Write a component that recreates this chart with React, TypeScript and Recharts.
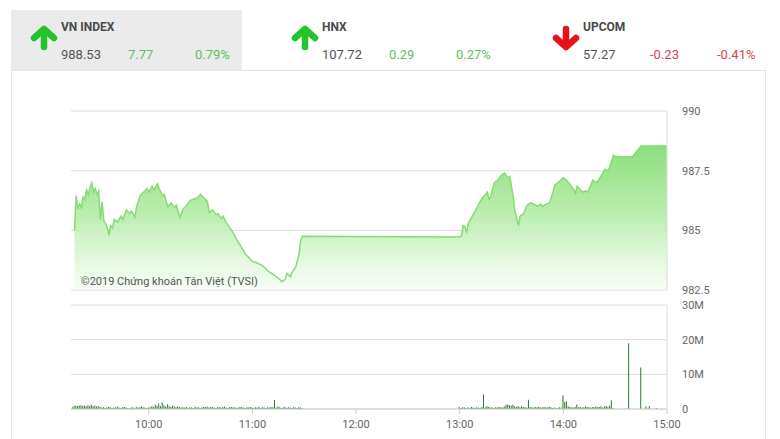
import React from 'react';
import { AreaChart, Area, BarChart, Bar, XAxis, YAxis, CartesianGrid } from 'recharts';

// header quotes
const indexNames = ['VN INDEX', 'HNX', 'UPCOM'];
const indexValues = ['988.53', '107.72', '57.27'];
const indexChanges = ['7.77', '0.29', '-0.23'];
const indexPercents = ['0.79%', '0.27%', '-0.41%'];

// intraday price (time, index level)
const priceTimes = [
  '09:17', '09:18', '09:19', '09:20', '09:21', '09:22', '09:23', '09:24', '09:25', '09:26',
  '09:27', '09:28', '09:29', '09:30', '09:31', '09:32', '09:33', '09:34', '09:35', '09:36',
  '09:37', '09:38', '09:39', '09:40', '09:42', '09:44', '09:45', '09:47', '09:49', '09:50',
  '09:52', '09:53', '09:55', '09:57', '09:59', '10:00', '10:02', '10:03', '10:05', '10:06',
  '10:08', '10:09', '10:11', '10:13', '10:15', '10:16', '10:18', '10:20', '10:22', '10:24',
  '10:26', '10:28', '10:30', '10:32', '10:34', '10:35', '10:37', '10:39', '10:40', '10:42',
  '10:43', '10:45', '10:48', '10:51', '10:54', '10:56', '10:58', '11:00', '11:02', '11:05',
  '11:07', '11:09', '11:11', '11:13', '11:15', '11:17', '11:19', '11:20', '11:22', '11:23',
  '11:25', '11:27', '11:28', '11:29', '13:00', '13:01', '13:02', '13:03', '13:04', '13:05',
  '13:07', '13:09', '13:11', '13:13', '13:16', '13:17', '13:18', '13:20', '13:22', '13:24',
  '13:26', '13:28', '13:29', '13:31', '13:32', '13:34', '13:35', '13:37', '13:39', '13:41',
  '13:43', '13:45', '13:47', '13:48', '13:50', '13:52', '13:54', '13:55', '13:57', '14:00',
  '14:02', '14:04', '14:06', '14:07', '14:08', '14:10', '14:11', '14:13', '14:14', '14:16',
  '14:17', '14:19', '14:20', '14:22', '14:24', '14:26', '14:28', '14:29', '14:30', '14:40',
  '14:45', '15:00',
];
const priceValues = [
  985.0, 986.45, 985.9, 986.1, 985.95, 986.4, 986.3, 986.7, 986.5, 986.8,
  987.0, 986.6, 986.75, 986.5, 986.65, 985.45, 986.2, 985.4, 985.3, 985.1,
  984.8, 985.2, 985.1, 985.45, 985.35, 985.6, 985.45, 985.85, 985.7, 985.8,
  985.55, 986.0, 986.45, 986.6, 986.75, 986.6, 986.85, 986.7, 986.95, 986.75,
  986.45, 986.5, 986.0, 986.15, 985.95, 986.05, 985.55, 985.9, 986.05, 986.25,
  986.3, 986.35, 986.5, 986.35, 986.2, 985.75, 985.85, 985.65, 985.7, 985.5,
  985.6, 985.3, 985.0, 984.6, 984.25, 984.0, 983.85, 983.7, 983.65, 983.55,
  983.45, 983.3, 983.2, 983.1, 983.0, 982.85, 982.95, 983.2, 983.05, 983.25,
  983.45, 984.0, 984.6, 984.75, 984.72, 984.75, 985.2, 985.15, 984.95, 985.3,
  985.55, 985.8, 986.1, 986.35, 986.6, 986.3, 986.4, 987.0, 987.1, 987.3,
  987.4, 987.2, 987.25, 986.4, 985.8, 985.2, 985.6, 985.7, 986.05, 986.15,
  986.1, 986.0, 986.1, 986.0, 986.1, 986.15, 986.6, 986.9, 987.0, 987.2,
  987.1, 986.9, 986.7, 986.55, 986.85, 986.7, 986.6, 986.65, 986.6, 986.9,
  987.1, 987.0, 987.05, 987.3, 987.55, 987.5, 987.9, 988.15, 988.08, 988.08,
  988.53, 988.53,
];

// volume, millions of shares per minute
const morningStart = '09:16';
const morningVolume = [
  0.5, 0.9, 1.0, 0.9, 1.0, 1.1, 0.9, 1.0, 0.8, 1.1, 0.9, 1.2, 0.8, 1.0, 0.7, 0.9,
  0.6, 0.4, 0.5, 0.3, 0.4, 0.6, 0.5, 0.3, 0.4, 0.5, 0.7, 0.4, 0.3, 0.5, 0.6, 0.4,
  0.3, 0.2, 0.4, 0.5, 0.3, 0.6, 0.4, 0.5, 0.7, 0.5, 0.4, 0.3,
  0.4, 0.5, 0.8, 0.6, 1.2, 0.9, 1.6, 0.8, 1.9, 1.1, 0.7, 1.4, 0.9, 0.6, 1.0, 0.7, 0.5, 0.8, 0.6, 0.4,
  0.5, 0.4, 0.6, 0.3, 0.5, 0.4, 0.3, 0.6, 0.4, 0.5, 0.3, 0.4, 0.6, 0.5, 0.7, 0.4, 0.5, 0.6, 0.4, 0.3,
  0.5, 0.6, 0.4, 0.5, 0.7, 0.4, 0.3, 0.5, 0.6, 0.4, 0.5, 0.3, 0.4, 0.6, 0.5, 0.4, 0.3, 0.5, 0.4, 0.6,
  0.4, 0.3, 0.5, 0.4, 0.6, 0.3, 0.5, 0.4, 0.3, 0.5, 0.4, 0.6, 0.5, 2.6, 0.4, 0.7, 0.5, 0.3, 0.4, 0.6,
  0.3, 0.5, 0.4, 0.3, 0.5, 0.4, 0.3, 0.5, 0.4, 0.3,
];
const afternoonStart = '13:00';
const afternoonVolume = [
  0.6, 0.3, 0.5, 0.4, 0.2, 0.5, 0.3, 0.6, 0.4, 0.3,
  0.5, 0.4, 0.3, 0.6, 4.2, 0.5, 0.8, 0.6, 0.4, 0.5,
  0.3, 0.5, 0.4, 0.6, 0.5, 0.4, 0.7, 1.2, 1.3, 1.1,
  1.0, 1.2, 0.8, 0.6, 0.9, 0.5, 0.7, 0.6, 0.5, 0.4,
  2.7, 0.6, 0.5, 0.4, 0.6, 0.5, 0.7, 0.4, 0.5, 0.6,
  0.5, 0.4, 0.7, 0.5, 0.3, 0.4, 0.3, 0.2, 0.5, 0.4,
  4.0, 2.0, 2.2, 0.8, 0.6, 0.5, 0.4, 0.6, 1.3, 0.5,
  0.6, 0.4, 0.5, 0.7, 0.6, 0.5, 0.4, 0.6, 0.5, 0.7,
  0.5, 0.6, 0.8, 0.4, 0.7, 0.9, 0.6, 1.0, 2.5, 0.3,
];
const closeTimes = ['14:38', '14:45', '14:48', '14:50', '14:54'];
const closeVolume = [19.0, 12.0, 0.7, 0.9, 0.3];

const hourTicks = ['10:00', '11:00', '12:00', '13:00', '14:00', '15:00'];
const priceTicks = [982.5, 985, 987.5, 990];
const volumeTicks = [0, 10, 20, 30];

const toMin = (s: string) => {
  const [h, m] = s.split(':').map(Number);
  return h * 60 + m;
};
const fmtTime = (v: number) => `${Math.floor(v / 60)}:${String(v % 60).padStart(2, '0')}`;

const priceData = priceTimes.map((t, i) => ({ t: toMin(t), price: priceValues[i] }));
const volumeData = [
  ...morningVolume.map((v, i) => ({ t: toMin(morningStart) + i, vol: v })),
  ...afternoonVolume.map((v, i) => ({ t: toMin(afternoonStart) + i, vol: v })),
  ...closeTimes.map((t, i) => ({ t: toMin(t), vol: closeVolume[i] })),
];
const xDomain = [toMin('09:15'), toMin('15:00')];

const GREEN = '#5cbf5c';
const RED = '#d9434f';
const axisTick = { fill: '#666', fontSize: 11, fontFamily: 'Roboto' };

const Arrow = ({ up }: { up: boolean }) => (
  <svg width={28} height={26} viewBox="0 0 28 26">
    <g
      fill="none"
      stroke={up ? '#22c42b' : '#e5141c'}
      strokeWidth={6.5}
      strokeLinecap="round"
      strokeLinejoin="round"
      transform={up ? undefined : 'rotate(180 14 13)'}
    >
      <polyline points="4,13 14,4 24,13" />
      <line x1={14} y1={5} x2={14} y2={22} />
    </g>
  </svg>
);

const Quote = ({ i, left }: { i: number; left: number }) => {
  const up = !indexChanges[i].startsWith('-');
  const col = up ? GREEN : RED;
  const row: React.CSSProperties = { position: 'absolute', top: 47, fontSize: 13, color: '#555' };
  return (
    <>
      <div style={{ position: 'absolute', left: left - 31, top: 25 }}>
        <Arrow up={up} />
      </div>
      <div style={{ position: 'absolute', left, top: 20, fontSize: 12, fontWeight: 'bold', color: '#4a4a4a' }}>
        {indexNames[i]}
      </div>
      <div style={{ ...row, left }}>{indexValues[i]}</div>
      <div style={{ ...row, left: left + 67, color: col }}>{indexChanges[i]}</div>
      <div style={{ ...row, left: left + 134, color: col }}>{indexPercents[i]}</div>
    </>
  );
};

export default function App() {
  return (
    <div
      style={{
        position: 'absolute', top: 0, left: 0, width: 780, height: 439, background: '#fff',
        fontFamily: 'Roboto, sans-serif', overflow: 'hidden',
      }}
    >
      {/* header */}
      <div style={{ position: 'absolute', left: 11, top: 10, width: 231, height: 61, background: '#ebebeb' }} />
      <div style={{ position: 'absolute', left: 11, top: 70, width: 753, height: 400, border: '1px solid #e6e6e6' }} />
      <Quote i={0} left={61} />
      <Quote i={1} left={322} />
      <Quote i={2} left={583} />

      {/* price */}
      <div style={{ position: 'absolute', left: 0, top: 0 }}>
        <AreaChart width={780} height={300} data={priceData} margin={{ top: 111, right: 0, left: 71, bottom: 10 }}>
          <defs>
            <linearGradient id="priceFill" x1="0" y1="0" x2="0" y2="1">
              <stop offset="0%" stopColor="#8ae07a" stopOpacity={1} />
              <stop offset="50%" stopColor="#b6eca9" stopOpacity={0.9} />
              <stop offset="100%" stopColor="#f2fcf0" stopOpacity={0.6} />
            </linearGradient>
          </defs>
          <CartesianGrid horizontal vertical={false} stroke="#dcdcdc" />
          <XAxis dataKey="t" type="number" domain={xDomain} hide />
          <YAxis
            orientation="right"
            domain={[982.5, 990]}
            ticks={priceTicks}
            width={113}
            axisLine={{ stroke: '#dcdcdc' }}
            tickLine={false}
            tickMargin={9}
            tick={axisTick}
            allowDataOverflow
          />
          <Area
            type="linear"
            dataKey="price"
            stroke="#84dc73"
            strokeWidth={1.5}
            fill="url(#priceFill)"
            fillOpacity={1}
            isAnimationActive={false}
            dot={false}
            activeDot={false}
          />
        </AreaChart>
      </div>
      <div style={{ position: 'absolute', left: 81, top: 275, fontSize: 11, color: '#555' }}>
        ©2019 Chứng khoán Tân Việt (TVSI)
      </div>

      {/* volume */}
      <div style={{ position: 'absolute', left: 0, top: 295 }}>
        <BarChart width={780} height={144} data={volumeData} margin={{ top: 10, right: 0, left: 71, bottom: 5 }}>
          <CartesianGrid horizontal vertical={false} stroke="#dcdcdc" />
          <XAxis
            dataKey="t"
            type="number"
            domain={xDomain}
            ticks={hourTicks.map(toMin)}
            tickFormatter={fmtTime}
            height={25}
            axisLine={{ stroke: '#cfcfcf' }}
            tickLine={{ stroke: '#cfcfcf' }}
            tickSize={5}
            tickMargin={6}
            tick={axisTick}
            allowDataOverflow
          />
          <YAxis
            orientation="right"
            domain={[0, 30]}
            ticks={volumeTicks}
            tickFormatter={(v: number) => (v === 0 ? '0' : `${v}M`)}
            width={113}
            axisLine={{ stroke: '#dcdcdc' }}
            tickLine={false}
            tickMargin={9}
            tick={axisTick}
          />
          <Bar dataKey="vol" fill="#2a7a2e" barSize={1} isAnimationActive={false} />
        </BarChart>
      </div>
    </div>
  );
}
